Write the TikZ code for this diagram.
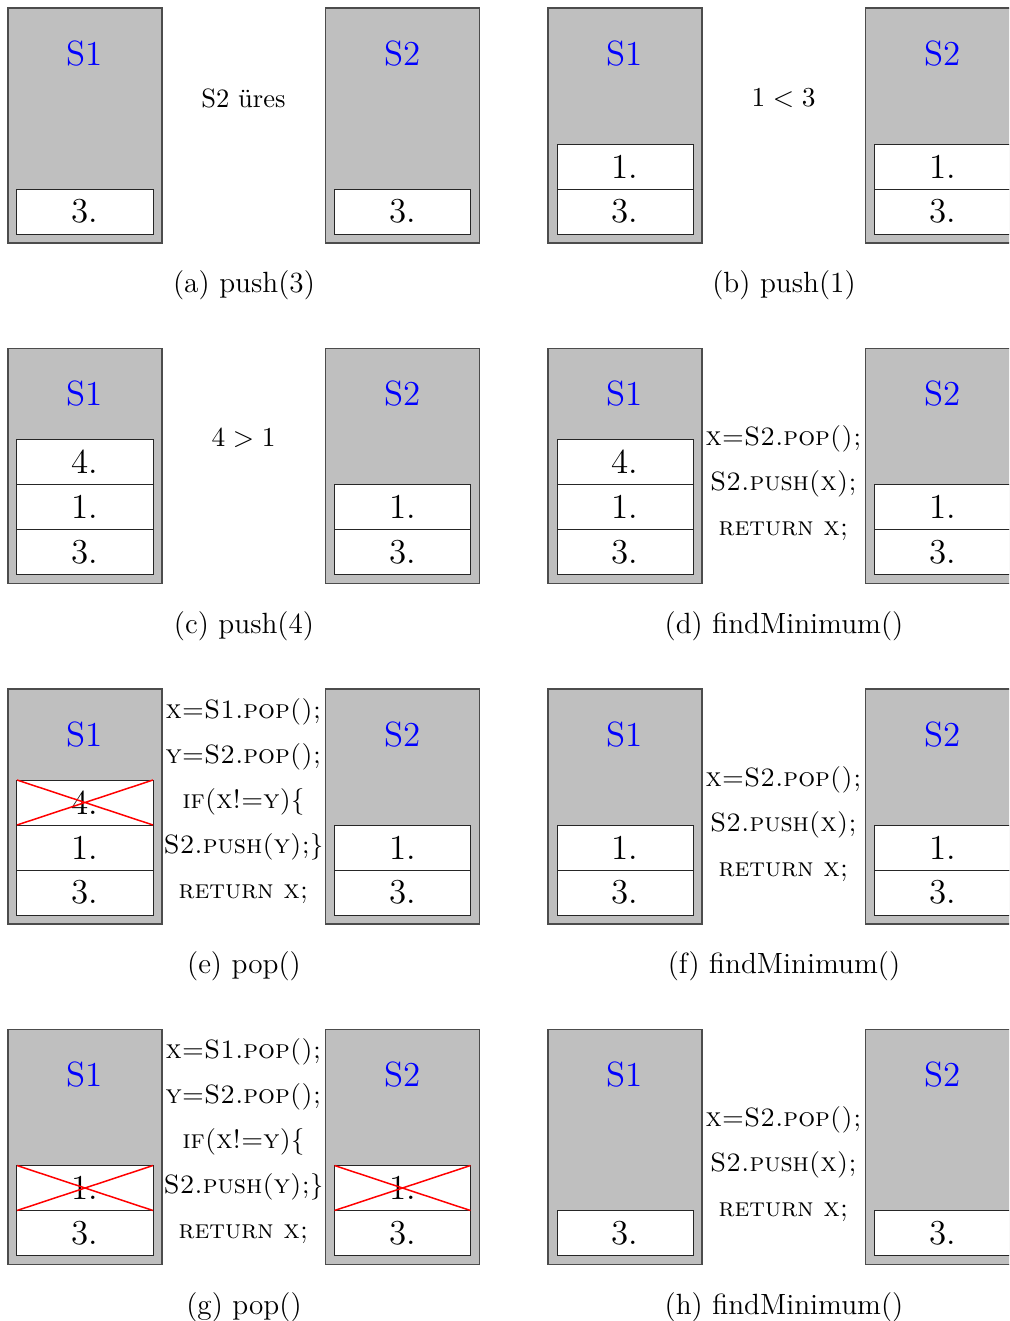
\documentclass[tikz,border=0pt]{standalone}
\usepackage{tikz}
\usetikzlibrary{positioning}
\definecolor{stackgray}{gray}{0.75}
\newcommand{\cellfont}{\fontsize{14}{16}\selectfont}
\newcommand{\codefont}{\fontsize{10.6}{18}\selectfont}
\newcommand{\stackcapfont}{\fontsize{11.7}{13}\selectfont}

\begin{document}
\begin{tikzpicture}[
  x=0.4pt, y=-0.4pt,
  stackbox/.style={draw=black!70, fill=stackgray, line width=0.6pt,
                   minimum width=61.6pt, minimum height=94pt,
                   inner sep=0pt, outer sep=0pt},
  cell/.style={draw=black!85, fill=white, line width=0.4pt,
               minimum width=54.4pt, minimum height=18pt,
               inner sep=0pt, outer sep=0pt, font=\cellfont},
  stackname/.style={text=blue, font=\cellfont, inner sep=0pt},
  midtext/.style={font=\codefont, align=center, inner sep=0pt},
  code/.style={midtext, font=\codefont\scshape},
  subcap/.style={font=\stackcapfont},
  cross/.style={red, line width=0.6pt},
  node distance=0pt
]
  \clip (0,0) rectangle (1009,1321);

  %% (a) push(3)
  \node[stackbox] (s1a) at (85,125.5) {};
  \node[stackbox] (s2a) at (402.5,125.5) {};
  \node[stackname, below=12.9pt of s1a.north] (n1a) {S1};
  \node[stackname, below=12.9pt of s2a.north] (n2a) {S2};
  \node[cell, above=3.6pt of s1a.south] (s1a-3) {3.};
  \node[cell, above=3.6pt of s2a.south] (s2a-3) {3.};
  \node[midtext] (ta) at (243.5,98) {S2 üres};
  \node[subcap] (capa) at (244,285.5) {(a) push(3)};

  %% (b) push(1)
  \node[stackbox] (s1b) at (625,125.5) {};
  \node[stackbox] (s2b) at (942.5,125.5) {};
  \node[stackname, below=12.9pt of s1b.north] (n1b) {S1};
  \node[stackname, below=12.9pt of s2b.north] (n2b) {S2};
  \node[cell, above=3.6pt of s1b.south] (s1b-3) {3.};
  \node[cell, above=of s1b-3] (s1b-1) {1.};
  \node[cell, above=3.6pt of s2b.south] (s2b-3) {3.};
  \node[cell, above=of s2b-3] (s2b-1) {1.};
  \node[midtext] (tb) at (783.5,98) {$1<3$};
  \node[subcap] (capb) at (784,285.5) {(b) push(1)};

  %% (c) push(4)
  \node[stackbox] (s1c) at (85,466) {};
  \node[stackbox] (s2c) at (402.5,466) {};
  \node[stackname, below=12.9pt of s1c.north] (n1c) {S1};
  \node[stackname, below=12.9pt of s2c.north] (n2c) {S2};
  \node[cell, above=3.6pt of s1c.south] (s1c-3) {3.};
  \node[cell, above=of s1c-3] (s1c-1) {1.};
  \node[cell, above=of s1c-1] (s1c-4) {4.};
  \node[cell, above=3.6pt of s2c.south] (s2c-3) {3.};
  \node[cell, above=of s2c-3] (s2c-1) {1.};
  \node[midtext] (tc) at (243.5,438.5) {$4>1$};
  \node[subcap] (capc) at (244,626) {(c) push(4)};

  %% (d) findMinimum()
  \node[stackbox] (s1d) at (625,466) {};
  \node[stackbox] (s2d) at (942.5,466) {};
  \node[stackname, below=12.9pt of s1d.north] (n1d) {S1};
  \node[stackname, below=12.9pt of s2d.north] (n2d) {S2};
  \node[cell, above=3.6pt of s1d.south] (s1d-3) {3.};
  \node[cell, above=of s1d-3] (s1d-1) {1.};
  \node[cell, above=of s1d-1] (s1d-4) {4.};
  \node[cell, above=3.6pt of s2d.south] (s2d-3) {3.};
  \node[cell, above=of s2d-3] (s2d-1) {1.};
  \node[code] (td) at (783.5,483.5) {x=S2.pop();\\S2.push(x);\\return x;};
  \node[subcap] (capd) at (784,626) {(d) findMinimum()};

  %% (e) pop()
  \node[stackbox] (s1e) at (85,806.5) {};
  \node[stackbox] (s2e) at (402.5,806.5) {};
  \node[stackname, below=12.9pt of s1e.north] (n1e) {S1};
  \node[stackname, below=12.9pt of s2e.north] (n2e) {S2};
  \node[cell, above=3.6pt of s1e.south] (s1e-3) {3.};
  \node[cell, above=of s1e-3] (s1e-1) {1.};
  \node[cell, above=of s1e-1] (s1e-4) {4.};
  \node[cell, above=3.6pt of s2e.south] (s2e-3) {3.};
  \node[cell, above=of s2e-3] (s2e-1) {1.};
  \draw[cross] (s1e-4.north west) -- (s1e-4.south east)
               (s1e-4.south west) -- (s1e-4.north east);
  \node[code] (te) at (243.5,801)
    {x=S1.pop();\\y=S2.pop();\\if(x!=y)\{\\S2.push(y);\}\\return x;};
  \node[subcap] (cape) at (244,966.5) {(e) pop()};

  %% (f) findMinimum()
  \node[stackbox] (s1f) at (625,806.5) {};
  \node[stackbox] (s2f) at (942.5,806.5) {};
  \node[stackname, below=12.9pt of s1f.north] (n1f) {S1};
  \node[stackname, below=12.9pt of s2f.north] (n2f) {S2};
  \node[cell, above=3.6pt of s1f.south] (s1f-3) {3.};
  \node[cell, above=of s1f-3] (s1f-1) {1.};
  \node[cell, above=3.6pt of s2f.south] (s2f-3) {3.};
  \node[cell, above=of s2f-3] (s2f-1) {1.};
  \node[code] (tf) at (783.5,824) {x=S2.pop();\\S2.push(x);\\return x;};
  \node[subcap] (capf) at (784,966.5) {(f) findMinimum()};

  %% (g) pop()
  \node[stackbox] (s1g) at (85,1147) {};
  \node[stackbox] (s2g) at (402.5,1147) {};
  \node[stackname, below=12.9pt of s1g.north] (n1g) {S1};
  \node[stackname, below=12.9pt of s2g.north] (n2g) {S2};
  \node[cell, above=3.6pt of s1g.south] (s1g-3) {3.};
  \node[cell, above=of s1g-3] (s1g-1) {1.};
  \node[cell, above=3.6pt of s2g.south] (s2g-3) {3.};
  \node[cell, above=of s2g-3] (s2g-1) {1.};
  \draw[cross] (s1g-1.north west) -- (s1g-1.south east)
               (s1g-1.south west) -- (s1g-1.north east);
  \draw[cross] (s2g-1.north west) -- (s2g-1.south east)
               (s2g-1.south west) -- (s2g-1.north east);
  \node[code] (tg) at (243.5,1141.5)
    {x=S1.pop();\\y=S2.pop();\\if(x!=y)\{\\S2.push(y);\}\\return x;};
  \node[subcap] (capg) at (244,1307) {(g) pop()};

  %% (h) findMinimum()
  \node[stackbox] (s1h) at (625,1147) {};
  \node[stackbox] (s2h) at (942.5,1147) {};
  \node[stackname, below=12.9pt of s1h.north] (n1h) {S1};
  \node[stackname, below=12.9pt of s2h.north] (n2h) {S2};
  \node[cell, above=3.6pt of s1h.south] (s1h-3) {3.};
  \node[cell, above=3.6pt of s2h.south] (s2h-3) {3.};
  \node[code] (th) at (783.5,1164.5) {x=S2.pop();\\S2.push(x);\\return x;};
  \node[subcap] (caph) at (784,1307) {(h) findMinimum()};
\end{tikzpicture}
\end{document}
